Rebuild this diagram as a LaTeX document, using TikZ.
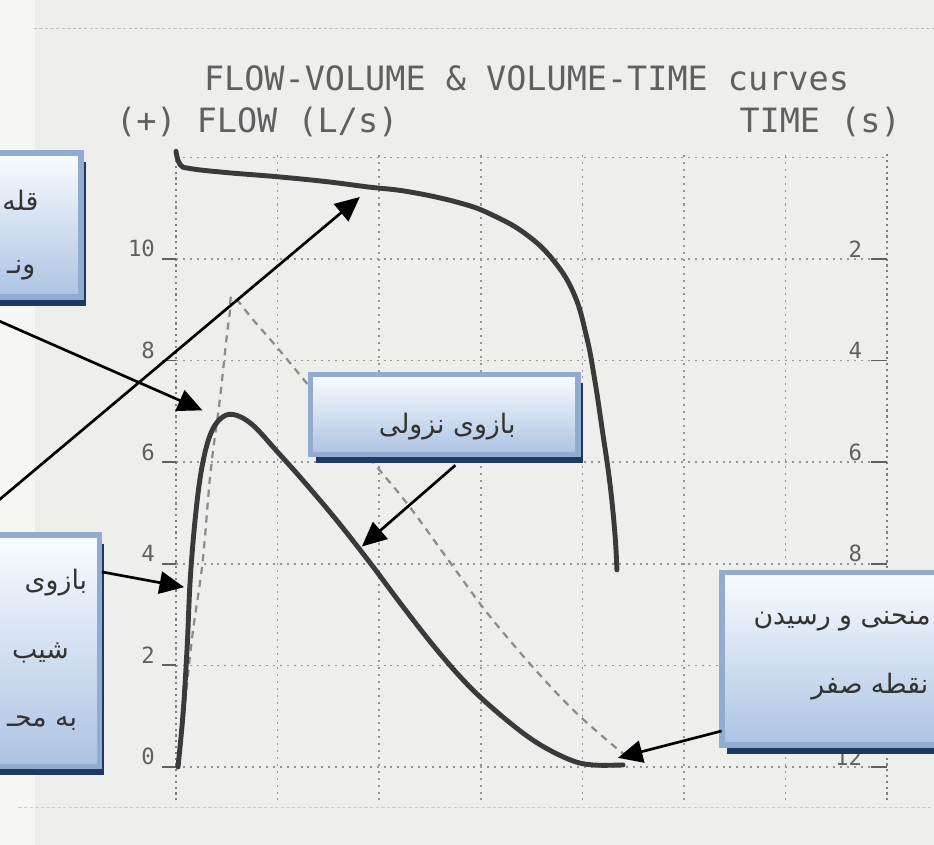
\documentclass[tikz,border=0pt]{standalone}
\usepackage{fontspec}
\setmonofont{DejaVu Sans Mono}
\newfontfamily\farsi[Script=Arabic]{DejaVu Sans}
\TeXXeTstate=1
\usepackage{tikz}
\usetikzlibrary{arrows.meta, calc, positioning, shadows}

\definecolor{paper}{RGB}{238,238,236}
\definecolor{ink}{RGB}{58,58,58}
\definecolor{printgray}{RGB}{96,96,96}
\definecolor{gridgray}{RGB}{150,150,150}
\definecolor{boxedge}{RGB}{146,172,208}
\definecolor{boxtop}{RGB}{250,252,255}
\definecolor{boxbottom}{RGB}{172,195,226}
\definecolor{boxshade}{RGB}{30,58,98}

\begin{document}
\begin{tikzpicture}[x=1.6cm, y=1.6cm, >={Triangle[length=11pt, width=10pt]},
    gridline/.style={gridgray, line width=0.7pt, dash pattern=on 0.9pt off 2.2pt},
    axisline/.style={printgray!80, line width=0.8pt, dash pattern=on 1pt off 1.6pt},
    curve/.style={ink, line width=2.2pt, line join=round, line cap=round},
    predicted/.style={gray!90, line width=1pt, dash pattern=on 3.2pt off 2.6pt},
    callout/.style={draw=boxedge, line width=2.5pt, top color=boxtop, bottom color=boxbottom,
        inner sep=0pt, outer sep=0pt,
        drop shadow={shadow xshift=0.08cm, shadow yshift=-0.14cm, fill=boxshade, opacity=1}},
    pointer/.style={->, black, line width=1.2pt},
    printtext/.style={printgray, font=\ttfamily\fontsize{15}{15}\selectfont},
    ticklabel/.style={printgray, font=\ttfamily\fontsize{10}{10}\selectfont},
    boxtext/.style={text=black!80, font=\farsi\fontsize{12}{14}\selectfont, inner sep=0pt}]

    \useasboundingbox (-1.732,-0.768) rectangle (7.461,7.549);
    \clip (-1.732,-0.768) rectangle (7.461,7.549);
    \fill[paper] (-1.732,-0.768) rectangle (7.461,7.549);
    \fill[white, opacity=0.5] (-1.732,-0.768) rectangle (-1.39,7.549);

    % faint print lines
    \draw[gridgray!60, dash pattern=on 1.5pt off 1pt] (-1.4,7.27) -- (7.46,7.27);
    \draw[gridgray!50, dash pattern=on 1.5pt off 1pt] (-1.55,-0.40) -- (7.46,-0.40);

    % grid
    \foreach \i in {1,...,6}
        \draw[gridline] (\i,-0.33) -- (\i,6.06);
    \foreach \j in {0,...,6}
        \draw[gridline] (0,\j) -- (7,\j);
    \draw[axisline] (0,-0.33) -- (0,6.06);
    \draw[axisline] (7,-0.33) -- (7,6.06);

    % headings
    \node[printtext] (title) at (3.45,6.78) {FLOW-VOLUME \& VOLUME-TIME curves};
    \node[printtext] (flowlabel) at (0.80,6.35) {(+) FLOW (L/s)};
    \node[printtext] (timelabel) at (6.34,6.35) {TIME (s)};

    % axis numbers
    \foreach \v/\t in {0/0, 1/2, 2/4, 3/6, 4/8, 5/10} {
        \node[ticklabel, anchor=east] (flow-\v) at (-0.13,\v+0.1) {\t};
        \draw[printgray, line width=0.8pt] (-0.14,\v) -- (0,\v);
    }
    \foreach \v/\t in {5/2, 4/4, 3/6, 2/8, 1/10, 0/12} {
        \node[ticklabel, anchor=east] (time-\v) at (6.83,\v+0.1) {\t};
        \draw[printgray, line width=0.8pt] (6.84,\v) -- (7,\v);
    }

    % predicted curve
    \draw[predicted] plot[smooth, tension=0.6] coordinates {(0.03,0) (0.15,1.2) (0.26,2.0)
        (0.34,2.9) (0.43,3.6) (0.49,4.15) (0.53,4.47) (0.56,4.63) (0.76,4.40) (1.02,4.10)
        (1.50,3.52) (1.98,2.95) (2.30,2.56) (2.70,2.01) (3.06,1.52) (3.48,1.02) (3.88,0.59)
        (4.20,0.30) (4.44,0.10)};

    % volume-time curve
    \draw[curve] plot[smooth, tension=0.7] coordinates {(0,6.06) (0.04,5.93) (0.14,5.89)
        (0.50,5.85) (0.99,5.81) (1.49,5.76) (1.88,5.71) (2.30,5.66) (2.80,5.55) (3.12,5.43)
        (3.45,5.24) (3.72,4.98) (3.92,4.65) (4.04,4.24) (4.12,3.82) (4.20,3.29) (4.27,2.80)
        (4.32,2.30) (4.34,1.94)};

    % flow-volume curve
    \draw[curve] plot[smooth, tension=0.6] coordinates {(0.02,0) (0.07,0.53) (0.11,1.18)
        (0.14,1.84) (0.19,2.45) (0.25,2.92) (0.33,3.25) (0.43,3.42) (0.56,3.47) (0.75,3.37)
        (1.00,3.10) (1.25,2.82) (1.58,2.43) (1.91,2.01) (2.24,1.57) (2.57,1.15) (2.89,0.79)
        (3.22,0.49) (3.55,0.24) (3.88,0.07) (4.10,0.02) (4.40,0.02)};

    % callout boxes
    \node[callout, minimum width=5.96cm, minimum height=2.27cm] (peakbox) at (-2.80,5.335) {};
    \node[callout, minimum width=4.21cm, minimum height=1.26cm] (descbox) at (2.64,3.47) {};
    \node[callout, minimum width=6.26cm, minimum height=3.65cm] (risebox) at (-2.71,1.145) {};
    \node[callout, minimum width=6.56cm, minimum height=2.72cm] (endbox) at (7.425,1.065) {};

    \node[boxtext, anchor=east] (peak-1) at (-1.35,5.58) {\beginR قله\endR};
    \node[boxtext, anchor=east] (peak-2) at (-1.38,4.89) {\beginR ونـ\endR};
    \node[boxtext] (desc-1) at (2.67,3.35) {\beginR بازوی نزولی\endR};
    \node[boxtext, anchor=east] (rise-1) at (-0.87,1.81) {\beginR بازوی\endR};
    \node[boxtext, anchor=east] (rise-2) at (-1.05,1.12) {\beginR شیب\endR};
    \node[boxtext, anchor=east] (rise-3) at (-0.97,0.43) {\beginR به محـ\endR};
    \node[boxtext, anchor=west] (end-1) at (5.68,1.43) {\beginR منحنی و رسیدن\endR};
    \node[boxtext, anchor=west] (end-2) at (6.25,0.79) {\beginR نقطه صفر\endR};

    % pointers
    \coordinate (peak-from) at (-2.22,4.60);
    \coordinate (peak-tip) at (0.26,3.51);
    \coordinate (top-from) at (-2.12,2.31);
    \coordinate (top-tip) at (1.81,5.61);
    \coordinate (rise-from) at (-0.73,1.92);
    \coordinate (rise-tip) at (0.08,1.77);
    \coordinate (desc-from) at (2.75,2.97);
    \coordinate (desc-tip) at (1.83,2.17);
    \coordinate (end-from) at (5.37,0.354);
    \coordinate (end-tip) at (4.35,0.09);

    \draw[pointer] (peak-from) -- (peak-tip);
    \draw[pointer] (top-from) -- (top-tip);
    \draw[pointer] (rise-from) -- (rise-tip);
    \draw[pointer] (desc-from) -- (desc-tip);
    \draw[pointer] (end-from) -- (end-tip);

\end{tikzpicture}
\end{document}
